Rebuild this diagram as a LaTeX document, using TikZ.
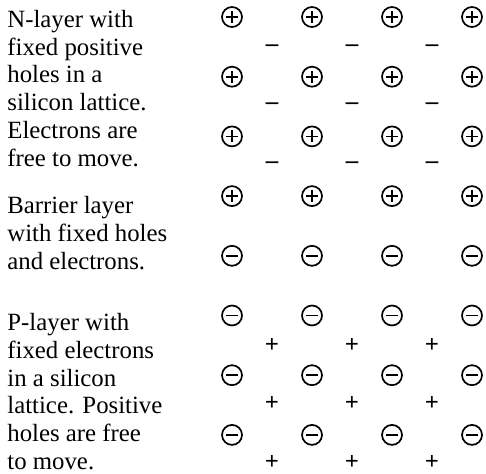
\documentclass[tikz,border=0pt]{standalone}
\usepackage{fontspec}
\setmainfont{Liberation Serif}
\usetikzlibrary{positioning}

\begin{document}
\begin{tikzpicture}[x=0.5pt,y=-0.5pt,
  lbl/.style={align=left,anchor=north west,inner sep=0pt,
              font=\fontsize{12.4}{13.85}\selectfont},
  ion/.style={draw,circle,line width=0.85pt,minimum size=10pt,inner sep=0pt},
  hole/.style={ion,path picture={
      \draw[line width=0.85pt] (path picture bounding box.center) +(-3pt,0) -- +(3pt,0)
            (path picture bounding box.center) +(0,-3pt) -- +(0,3pt);}},
  elec/.style={ion,path picture={
      \draw[line width=0.85pt] (path picture bounding box.center) +(-3pt,0) -- +(3pt,0);}},
  free/.style={inner sep=0pt,font=\fontsize{12.4}{13.85}\selectfont\bfseries}]
\useasboundingbox (0,0) rectangle (486,474);

% text on the left
\node[lbl] (n) at (7,10)  {N-layer with\\fixed positive\\holes in a\\silicon lattice.\\Electrons are\\free to move.};
\node[lbl] (b) at (7,196) {Barrier layer\\with fixed holes\\and electrons.};
\node[lbl] (p) at (7,313) {P-layer with\\fixed electrons\\in a silicon\\lattice. Positive\\holes are free\\to move.};

% fixed charges
\foreach \i/\x in {1/232,2/312,3/392,4/472} {
  \foreach \j in {0,...,3}
    \node[hole] (h\j\i) at (\x,17+59.7*\j) {};
  \foreach \j in {4,...,7}
    \node[elec] (e\j\i) at (\x,17+59.7*\j) {};
}

% free charges
\foreach \i/\x in {1/272,2/352,3/432} {
  \foreach \j in {0,...,2}
    \node[free] (m\j\i) at (\x,48+58.5*\j) {--};
  \foreach \j in {0,...,2}
    \node[free] (q\j\i) at (\x,345+58.5*\j) {+};
}
\end{tikzpicture}
\end{document}
